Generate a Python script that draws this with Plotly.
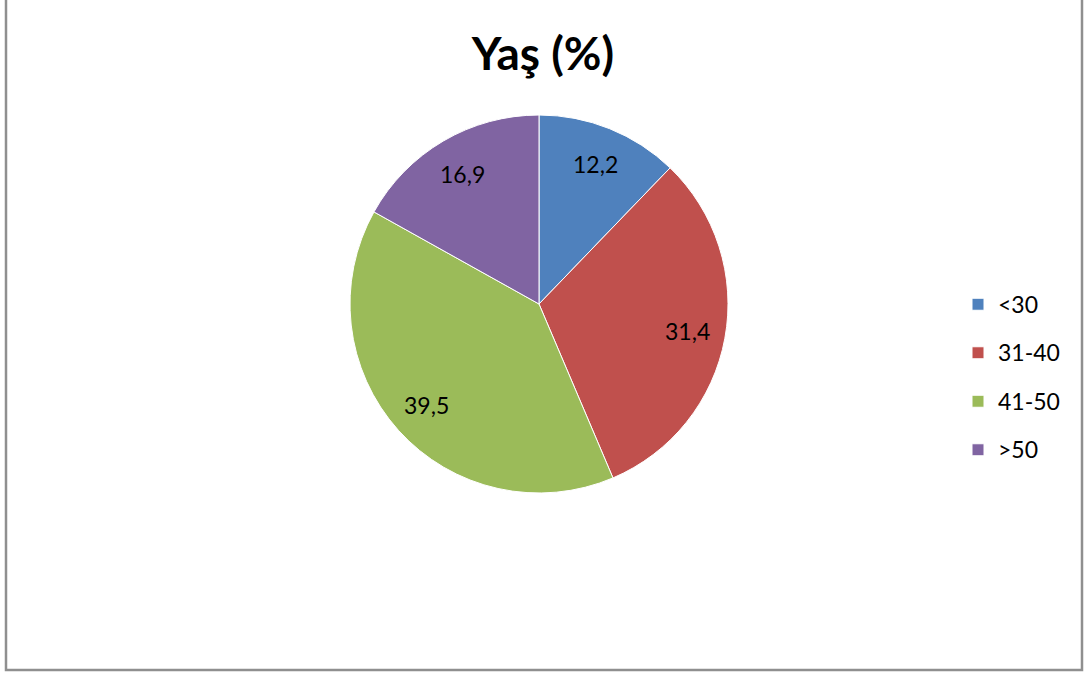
import math
import plotly.graph_objects as go

categories = ["<30", "31-40", "41-50", ">50"]
values = [12.2, 31.4, 39.5, 16.9]
colors = ["#4F81BD", "#C0504D", "#9BBB59", "#8064A2"]
title_text = "Yaş (%)"

W, H = 1086, 673
FONT = "Lato"

# pie placement (pixels)
PIE_L, PIE_R, PIE_T, PIE_B = 350, 728, 115, 493
LABEL_RADIUS = 0.80

legend_labels = [
    "<span style='font-size:23px;baseline-shift:5px'>"
    + c.replace("<", "&lt;").replace(">", "&gt;")
    + "</span>"
    for c in categories
]

fig = go.Figure(
    go.Pie(
        labels=legend_labels,
        values=values,
        sort=False,
        direction="clockwise",
        rotation=0,
        marker=dict(colors=colors, line=dict(color="white", width=1)),
        textinfo="none",
        hoverinfo="label+value",
        domain=dict(x=[PIE_L / W, PIE_R / W], y=[1 - PIE_B / H, 1 - PIE_T / H]),
    )
)

# data labels placed at slice mid-angles, derived from values
cx = (PIE_L + PIE_R) / 2
cy = (PIE_T + PIE_B) / 2
R = (PIE_R - PIE_L) / 2
total = sum(values)
cum = 0.0
annotations = []
for v in values:
    mid = (cum + v / 2) / total * 2 * math.pi
    cum += v
    px = cx + LABEL_RADIUS * R * math.sin(mid)
    py = cy - LABEL_RADIUS * R * math.cos(mid)
    annotations.append(
        dict(
            x=px / W,
            y=1 - py / H,
            xref="paper",
            yref="paper",
            text=f"{v:.1f}".replace(".", ","),
            showarrow=False,
            xanchor="center",
            yanchor="middle",
            font=dict(family=FONT, size=23, color="black"),
        )
    )

fig.update_layout(
    width=W,
    height=H,
    separators=",.",
    margin=dict(l=0, r=0, t=0, b=0),
    paper_bgcolor="white",
    plot_bgcolor="white",
    font=dict(family=FONT, color="black"),
    title=dict(
        text="<b>" + title_text + "</b>",
        font=dict(family=FONT, size=46, color="black"),
        x=543 / W,
        xanchor="center",
        xref="paper",
        y=1 - 54 / H,
        yanchor="middle",
        yref="paper",
    ),
    legend=dict(
        x=958 / W,
        xanchor="left",
        y=1 - 275 / H,
        yanchor="top",
        font=dict(family=FONT, size=35, color="black"),
        bgcolor="rgba(0,0,0,0)",
    ),
    annotations=annotations,
    shapes=[
        dict(
            type="rect",
            xref="paper",
            yref="paper",
            x0=6 / W,
            x1=1082 / W,
            y0=1 - 670 / H,
            y1=1.05,
            line=dict(color="#8f8f8f", width=2.5),
            fillcolor="rgba(0,0,0,0)",
        )
    ],
)

fig.write_html(
    "out.html",
    config={"displayModeBar": False},
    post_script="document.body.style.margin='0';document.body.style.overflow='hidden';",
)
